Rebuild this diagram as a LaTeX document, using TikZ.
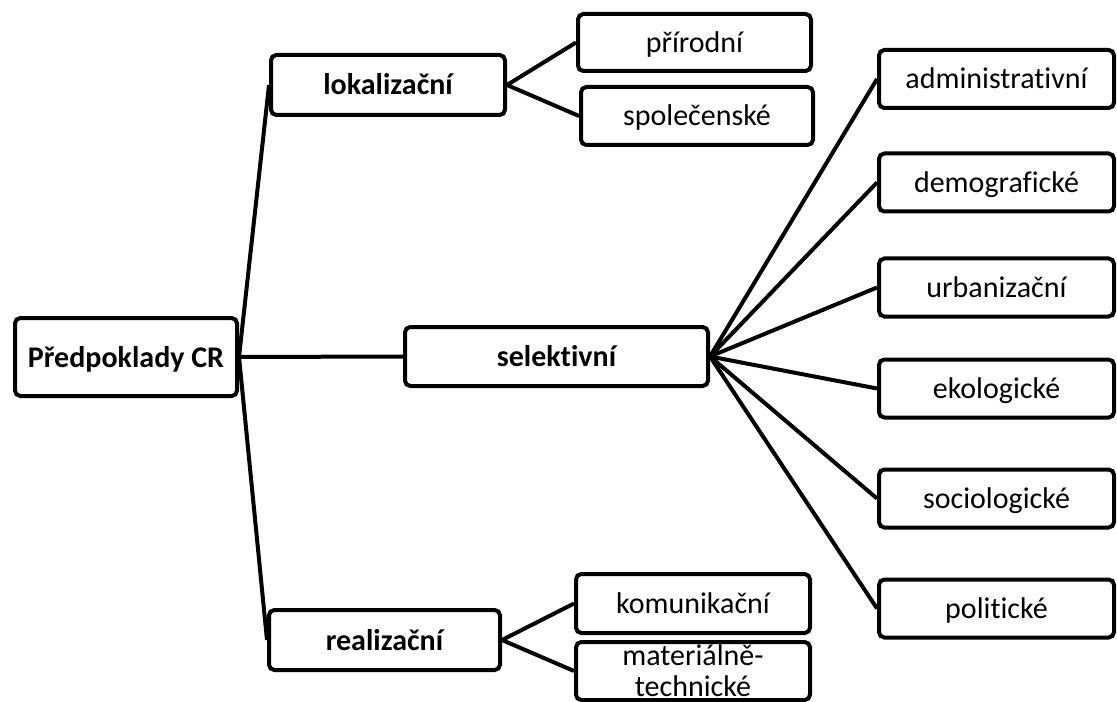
\documentclass[tikz,border=0pt]{standalone}
\usepackage{fontspec}
\setmainfont[Ligatures={NoCommon,NoContextual}]{Carlito}
\begin{document}
\begin{tikzpicture}[x=0.75pt,y=-0.75pt,
    frame/.style={draw=black,line width=3pt,rounded corners=4pt,fill=white,
      inner sep=0pt,font=\fontsize{22.5}{23.25}\selectfont},
    box/.style={frame,text height=17pt,text depth=2pt},
    headbox/.style={box,font=\fontsize{22.5}{23.25}\selectfont\bfseries},
    twoline/.style={frame,align=center},
    link/.style={draw=black,line width=3pt}]

    \fill[white] (0,0) rectangle (1117,702);
    \useasboundingbox (0,0) rectangle (1117,702);

    \node[headbox,minimum width=166.5pt,minimum height=58.5pt] (root) at (126,357) {Předpoklady CR};
    \node[headbox,minimum width=175.5pt,minimum height=45pt] (lok) at (388,85) {lokalizační};
    \node[headbox,minimum width=227.25pt,minimum height=44.25pt] (sel) at (556.5,356.5) {selektivní};
    \node[headbox,minimum width=173.25pt,minimum height=45pt] (real) at (384.5,640) {realizační};

    \node[box,minimum width=174.75pt,minimum height=42.75pt] (prir) at (694.5,42.5) {přírodní};
    \node[box,minimum width=174pt,minimum height=43.5pt] (spol) at (697,116) {společenské};
    \node[box,minimum width=175.5pt,minimum height=44.25pt] (kom) at (693,603.5) {komunikační};
    \node[twoline,minimum width=175.5pt,minimum height=43.5pt] (mat) at (693,671) {materiálně-\\technické};

    \foreach \name/\txt/\y in {adm/administrativní/79,dem/demografické/182.5,
        urb/urbanizační/287.5,eko/ekologické/388.5,soc/sociologické/498.5,pol/politické/608.5}
      \node[box,minimum width=176.25pt,minimum height=43.5pt] (\name) at (996.5,\y) {\txt};

    \draw[link] (root.east) -- (lok.west);
    \draw[link] (root.east) -- (sel.west);
    \draw[link] (root.east) -- (real.west);
    \draw[link] (lok.east) -- (prir.west);
    \draw[link] (lok.east) -- (spol.west);
    \draw[link] (real.east) -- (kom.west);
    \draw[link] (real.east) -- (mat.west);
    \foreach \name in {adm,dem,urb,eko,soc,pol}
      \draw[link] (sel.east) -- (\name.west);
\end{tikzpicture}
\end{document}
